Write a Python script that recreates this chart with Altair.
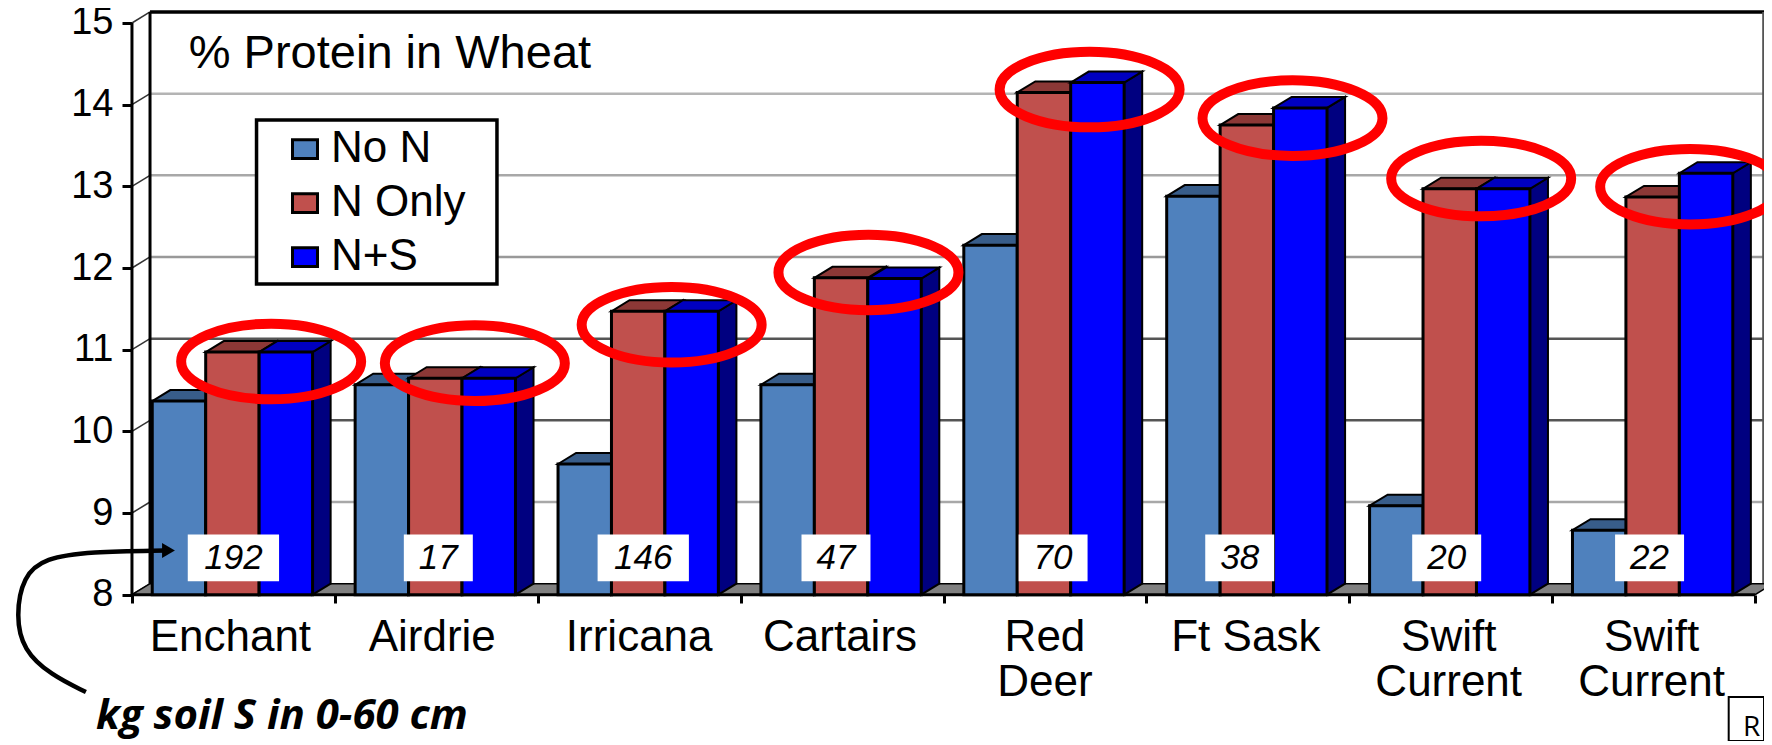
import altair as alt
import pandas as pd

categories = ["Enchant", "Airdrie", "Irricana", "Cartairs", "Red\nDeer", "Ft Sask", "Swift\nCurrent", "Swift\nCurrent"]
series = ["No N", "N Only", "N+S"]
no_n = [10.37, 10.57, 9.60, 10.57, 12.28, 12.88, 9.09, 8.79]
n_only = [10.97, 10.65, 11.47, 11.88, 14.15, 13.75, 12.97, 12.87]
n_s = [10.97, 10.65, 11.47, 11.87, 14.27, 13.96, 12.97, 13.16]
soil_s = ["192", "17", "146", "47", "70", "38", "20", "22"]
label_x = [0.485, 1.48, 2.5, 3.49, 4.5, 5.49, 6.49, 7.49]
soil_x = [0.50, 1.51, 2.52, 3.47, 4.54, 5.46, 6.48, 7.48]
ring_x = [0.686, 1.69, 2.66, 3.63, 4.72, 5.72, 6.65, 7.68]
ring_y = [10.855, 10.835, 11.305, 11.945, 14.185, 13.835, 13.095, 12.995]
curve_x = [-0.227, -0.399, -0.537, -0.572, -0.537, -0.429, -0.207, 0.163]
curve_y = [6.808, 7.016, 7.322, 7.739, 8.228, 8.449, 8.528, 8.541]
y_ticks = [8, 9, 10, 11, 12, 13, 14, 15]
grid_levels = [9, 10, 11, 12, 13, 14]

FRONT = ["#4F81BD", "#C0504D", "#0000FF"]
TOP = ["#385D8A", "#8C3836", "#0000C0"]
SIDE = ["#2F5078", "#7A2E2C", "#000080"]
GRID = ["#a8a8a8", "#555555", "#555555", "#999999", "#a8a8a8", "#b4b4b4"]

GROUP_START, BAR_W, DX, DY = 0.10, 0.2634, 0.089, 0.135
SANS = "Liberation Sans"
X_MIN, X_MAX, Y_MIN, Y_MAX = -0.611, 8.044, 6.2085, 15.1835

xs = alt.Scale(domain=[X_MIN, X_MAX], nice=False, zero=False)
ys = alt.Scale(domain=[Y_MIN, Y_MAX], nice=False, zero=False)
X = lambda f: alt.X(f, type="quantitative", scale=xs, title=None)
Y = lambda f: alt.Y(f, type="quantitative", scale=ys, title=None)

# front faces and 3-D faces of the bars
front, tops, sides = [], [], []
for s, vals in enumerate([no_n, n_only, n_s]):
    for g, v in enumerate(vals):
        xl = g + GROUP_START + s * BAR_W
        xr = xl + BAR_W
        front.append(dict(series=series[s], x=xl, x2=xr, y=v, y2=8))
        key = f"{s}-{g}"
        tops += [dict(k=key, s=s, x=xl, y=v, y2=v), dict(k=key, s=s, x=xl + DX, y=v + DY, y2=v),
                 dict(k=key, s=s, x=xr, y=v + DY, y2=v), dict(k=key, s=s, x=xr + DX, y=v + DY, y2=v + DY)]
        sides += [dict(k=key, s=s, x=xr, y=v, y2=8), dict(k=key, s=s, x=xr + DX, y=v + DY, y2=8 + DY)]
front, tops, sides = pd.DataFrame(front), pd.DataFrame(tops), pd.DataFrame(sides)

# axes are defined once, on an invisible base layer
base = alt.Chart(pd.DataFrame({"x": [0], "y": [8]})).mark_point(opacity=0).encode(
    x=alt.X("x:Q", scale=xs, title=None, axis=alt.Axis(values=list(range(9)), labels=False, domain=False, grid=False,
            tickColor="black", tickSize=8, tickWidth=3, offset=-146)),
    y=alt.Y("y:Q", scale=ys, title=None, axis=alt.Axis(values=y_ticks, domain=False, grid=False, tickColor="black",
            tickSize=10, tickWidth=3, offset=-124, labelFont=SANS, labelFontSize=38, labelColor="black", labelPadding=9,
            format="d")),
)

floor = alt.Chart(pd.DataFrame({"x": [0, DX, 8, 8 + DX], "y": [8, 8 + DY, 8 + DY, 8 + DY], "y2": [8, 8, 8, 8 + DY]})).mark_area(
    color="#808080", stroke="black", strokeWidth=1.5).encode(x=X("x"), y=Y("y"), y2="y2")

grid_df = pd.DataFrame({"level": grid_levels, "c": GRID})
grid_df["y"] = grid_df.level + DY
grid_df["x"] = DX
grid_df["x2"] = X_MAX
grid = alt.Chart(grid_df).mark_rule(strokeWidth=2.5).encode(
    x=X("x"), x2="x2", y=Y("y"), color=alt.Color("c:N", scale=None))

diag_rows = []
for lv in y_ticks:
    diag_rows += [dict(k=lv, x=0, y=lv), dict(k=lv, x=DX, y=lv + DY)]
diag = alt.Chart(pd.DataFrame(diag_rows)).mark_line(color="#333333", strokeWidth=1.5).encode(
    x=X("x"), y=Y("y"), detail="k:N")

left_axis = alt.Chart(pd.DataFrame({"x": [0], "y": [8], "y2": [15]})).mark_rule(color="black", strokeWidth=3).encode(
    x=X("x"), y=Y("y"), y2="y2")
wall_left = alt.Chart(pd.DataFrame({"x": [DX], "y": [8 + DY], "y2": [15 + DY]})).mark_rule(color="black", strokeWidth=3).encode(
    x=X("x"), y=Y("y"), y2="y2")
wall_top = alt.Chart(pd.DataFrame({"x": [DX], "x2": [X_MAX], "y": [15 + DY]})).mark_rule(color="black", strokeWidth=3.5).encode(
    x=X("x"), x2="x2", y=Y("y"))
wall_right = alt.Chart(pd.DataFrame({"x": [X_MAX - 0.004], "y": [8 + DY], "y2": [15 + DY]})).mark_rule(color="#555555", strokeWidth=2).encode(
    x=X("x"), y=Y("y"), y2="y2")
bottom = alt.Chart(pd.DataFrame({"x": [0], "x2": [8], "y": [8]})).mark_rule(color="black", strokeWidth=3).encode(
    x=X("x"), x2="x2", y=Y("y"))

legend_box = alt.Chart(pd.DataFrame({"x": [0.614], "x2": [1.799], "y": [11.805], "y2": [13.8125]})).mark_rect(
    fill="white", stroke="black", strokeWidth=3.5).encode(x=X("x"), x2="x2", y=Y("y"), y2="y2")

face_layers = []
for s in range(3):
    face_layers.append(alt.Chart(sides[sides.s == s]).mark_area(color=SIDE[s], stroke="black", strokeWidth=2).encode(
        x=X("x"), y=Y("y"), y2="y2", detail="k:N"))
for s in range(3):
    face_layers.append(alt.Chart(tops[tops.s == s]).mark_area(color=TOP[s], stroke="black", strokeWidth=2).encode(
        x=X("x"), y=Y("y"), y2="y2", detail="k:N"))

bars = alt.Chart(front).mark_bar(stroke="black", strokeWidth=3).encode(
    x=X("x"), x2="x2", y=Y("y"), y2="y2",
    color=alt.Color("series:N", scale=alt.Scale(domain=series, range=FRONT), sort=series,
                    legend=alt.Legend(title=None, orient="none", legendX=275, legendY=119,
                                      symbolType="M-1,-0.75H1V0.75H-1Z", symbolSize=625,
                                      symbolStrokeColor="black", symbolStrokeWidth=3,
                                      labelFont=SANS, labelFontSize=44, labelColor="black", labelOffset=4,
                                      rowPadding=10, padding=0)),
)

ELLIPSE = ("M-1,0C-1,-0.232 -0.552,-0.42 0,-0.42C0.552,-0.42 1,-0.232 1,0"
           "C1,0.232 0.552,0.42 0,0.42C-0.552,0.42 -1,0.232 -1,0Z")
rings = alt.Chart(pd.DataFrame({"x": ring_x, "y": ring_y})).mark_point(
    shape=ELLIPSE, size=32400, filled=False, stroke="#FF0000", strokeWidth=10, opacity=1).encode(x=X("x"), y=Y("y"))

soil_df = pd.DataFrame({"t": soil_s, "x": soil_x})
soil_df["half"] = soil_df.t.str.len() * 0.055 + 0.06
soil_df["x1"] = soil_df.x - soil_df.half
soil_df["x2"] = soil_df.x + soil_df.half
soil_df["y1"] = 8.166
soil_df["y2"] = 8.736
soil_df["ty"] = 8.447
soil_box = alt.Chart(soil_df).mark_rect(color="white").encode(x=X("x1"), x2="x2", y=Y("y1"), y2="y2")
soil_text = alt.Chart(soil_df).mark_text(font=SANS, fontSize=35, fontStyle="italic", color="black").encode(
    x=X("x"), y=Y("ty"), text="t:N")

cat_df = pd.DataFrame({"t": categories, "x": label_x, "y": 7.74})
cat_text = alt.Chart(cat_df).mark_text(font=SANS, fontSize=44, color="black", baseline="top", lineBreak="\n", lineHeight=45).encode(
    x=X("x"), y=Y("y"), text="t:N")

chart_title = alt.Chart(pd.DataFrame({"t": ["% Protein in Wheat"], "x": [0.28], "y": [14.447]})).mark_text(
    font=SANS, fontSize=47, color="black", align="left", baseline="alphabetic").encode(x=X("x"), y=Y("y"), text="t:N")

curve = alt.Chart(pd.DataFrame({"x": curve_x, "y": curve_y, "o": range(len(curve_x))})).mark_line(
    color="black", strokeWidth=4.5, interpolate="basis").encode(x=X("x"), y=Y("y"), order="o:Q")
head = alt.Chart(pd.DataFrame({"x": [0.18], "y": [8.5415]})).mark_point(
    shape="triangle-right", size=220, filled=True, color="black", opacity=1).encode(x=X("x"), y=Y("y"))
note = alt.Chart(pd.DataFrame({"t": ["kg soil S in 0-60 cm"], "x": [-0.177], "y": [6.356]})).mark_text(
    font="Open Sans", fontSize=42, fontStyle="italic", fontWeight="bold", color="black", align="left", baseline="alphabetic").encode(
    x=X("x"), y=Y("y"), text="t:N")

corner = alt.Chart(pd.DataFrame({"x": [7.87], "x2": [X_MAX], "y": [Y_MIN], "y2": [6.7475]})).mark_rect(
    fill="white", stroke="black", strokeWidth=2).encode(x=X("x"), x2="x2", y=Y("y"), y2="y2")
corner_text = alt.Chart(pd.DataFrame({"t": ["R"], "x": [7.94], "y": [6.27]})).mark_text(
    font="Open Sans", fontSize=28, color="black", align="left", baseline="alphabetic").encode(x=X("x"), y=Y("y"), text="t:N")

chart = alt.layer(
    base, grid, diag, left_axis, wall_left, wall_top, wall_right, legend_box, floor, bottom,
    *face_layers, bars, soil_box, soil_text, rings, cat_text, chart_title, curve, head, note, corner, corner_text,
).properties(
    width=1756, height=733, padding=0, autosize=alt.AutoSizeParams(type="none"),
).configure_view(stroke=None)

chart.save("out.html", embed_options={"renderer": "svg", "actions": False})
